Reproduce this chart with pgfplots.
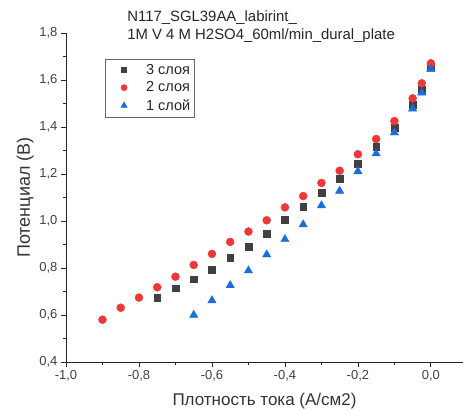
\documentclass[border=0pt]{standalone}
\usepackage{fontspec}
\setmainfont{Liberation Sans}
\usepackage{pgfplots}
\pgfplotsset{compat=1.18}
\definecolor{sqcol}{RGB}{64,64,64}
\definecolor{rdcol}{RGB}{238,56,56}
\definecolor{blcol}{RGB}{28,108,218}

\pgfplotsset{
  dotleg/.style={legend image code/.code={\path[draw=none, fill=none] (0pt,-1pt) rectangle (37pt,1pt); \draw[##1] plot coordinates {(17pt,0pt)};}},
}

\begin{document}
\begin{tikzpicture}
\begin{axis}[
  scale only axis,
  width=397pt, height=329pt,
  xmin=-1, xmax=0.088, ymin=0.4, ymax=1.8,
  axis lines*=left,
  axis line style={line width=0.8pt, black!85},
  xtick={-1,-0.8,-0.6,-0.4,-0.2,0},
  ytick={0.4,0.6,0.8,1.0,1.2,1.4,1.6,1.8},
  minor x tick num=1, minor y tick num=1,
  tick align=outside,
  major tick length=5pt, minor tick length=3pt,
  every tick/.style={black!85, line width=0.8pt},
  /pgf/number format/.cd, use comma, fixed, fixed zerofill, precision=1, assume math mode=true,
  /pgfplots/.cd,
  ticklabel style={font=\fontsize{13}{15}\selectfont, text=black!75},
  xlabel={Плотность тока (А/см2)},
  ylabel={Потенциал (В)},
  xlabel style={font=\fontsize{17}{19}\selectfont, text=black!80, yshift=-5pt},
  ylabel style={font=\fontsize{18}{20}\selectfont, text=black!80, yshift=-1pt},
  clip=false,
  legend style={at={(0.098,0.921)}, anchor=north west, draw=black!60,
    font=\fontsize{14.5}{16}\selectfont, text=black!85,
    inner xsep=2pt, inner ysep=3pt, row sep=2pt},
  legend cell align=left,
]
\addplot[only marks, dotleg, mark=square*, mark size=3.4pt, draw=sqcol, mark options={draw=sqcol, fill=sqcol},
  legend image post style={mark size=2.5pt}] coordinates {
(-0.75,0.675) (-0.70,0.714) (-0.65,0.752) (-0.60,0.794) (-0.55,0.844)
(-0.50,0.892) (-0.45,0.945) (-0.40,1.006) (-0.35,1.061) (-0.30,1.119)
(-0.25,1.180) (-0.20,1.244) (-0.15,1.316) (-0.10,1.396) (-0.05,1.494)
(-0.025,1.560) (0.0,1.657)
};
\addlegendentry{3 слоя}
\addplot[only marks, dotleg, mark=*, mark size=4pt, draw=rdcol, mark options={draw=rdcol, fill=rdcol},
  legend image post style={mark size=3.1pt}] coordinates {
(-0.90,0.580) (-0.85,0.631) (-0.80,0.674) (-0.75,0.718) (-0.70,0.763)
(-0.65,0.813) (-0.60,0.860) (-0.55,0.911) (-0.50,0.955) (-0.45,1.003)
(-0.40,1.058) (-0.35,1.106) (-0.30,1.162) (-0.25,1.214) (-0.20,1.284)
(-0.15,1.349) (-0.10,1.425) (-0.05,1.522) (-0.025,1.586) (0.0,1.671)
};
\addlegendentry{2 слоя}
\addplot[only marks, dotleg, mark=triangle*, mark size=4.8pt, draw=blcol, mark options={draw=blcol, fill=blcol},
  legend image post style={mark size=3.7pt}] coordinates {
(-0.65,0.600) (-0.60,0.662) (-0.55,0.726) (-0.50,0.789) (-0.45,0.857)
(-0.40,0.922) (-0.35,0.985) (-0.30,1.066) (-0.25,1.128) (-0.20,1.211)
(-0.15,1.287) (-0.10,1.376) (-0.05,1.478) (-0.025,1.546) (0.0,1.646)
};
\addlegendentry{1 слой}
\node[anchor=north west, inner sep=0pt, align=left, font=\fontsize{14.9}{18}\selectfont, text=black!85]
  at (rel axis cs:0.154,1) [yshift=22pt] {N117\_SGL39AA\_labirint\_\\1M V 4 M H2SO4\_60ml/min\_dural\_plate};
\end{axis}
\pgfresetboundingbox
\path ([shift={(-66pt,-48pt)}]current axis.south west) rectangle ([shift={(0pt,33pt)}]current axis.north east);
\end{tikzpicture}
\end{document}
